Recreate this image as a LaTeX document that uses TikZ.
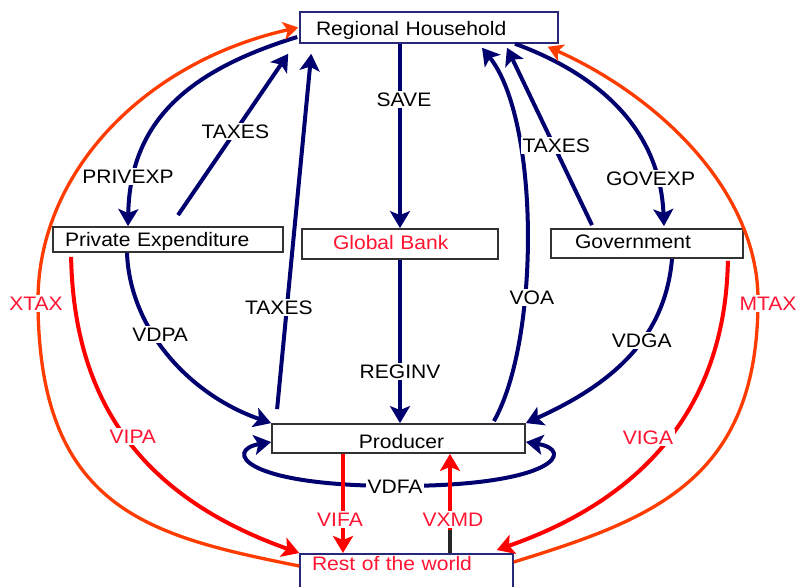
\documentclass[tikz,border=0pt]{standalone}
\usepackage{fontspec}
\setmainfont{Liberation Sans}[FakeStretch=1.08]
\usetikzlibrary{arrows.meta,calc}
\definecolor{navy}{RGB}{0,0,110}
\definecolor{boxnavy}{RGB}{40,40,120}
\definecolor{boxgray}{RGB}{50,50,50}
\definecolor{redline}{RGB}{255,0,0}
\definecolor{orangeline}{RGB}{255,60,0}
\definecolor{labelred}{RGB}{255,20,50}
\tikzset{
  box/.style={draw=boxgray, line width=1.8pt, fill=white, inner ysep=0pt, text height=14pt, text depth=0pt, align=left},
  hbox/.style={box, draw=boxnavy, line width=1.5pt},
  lbl/.style={fill=white, inner sep=1.5pt, text=black, text height=14pt, text depth=0pt},
  rlbl/.style={lbl, text=labelred},
  tip/.style={-{Stealth[length=17pt,width=20pt,inset=4pt]}},
  nav/.style={draw=navy, line width=4pt, tip},
  rline/.style={draw=redline, line width=4pt, tip},
  oline/.style={draw=orangeline, line width=3.3pt, -{Stealth[length=15pt,width=18pt,inset=4pt]}},
}
\begin{document}
\begin{tikzpicture}[x=1pt,y=-1pt,font=\fontsize{19.5}{23}\selectfont]
\path[use as bounding box, clip] (0,0) rectangle (799,586);
\fill[white] (0,0) rectangle (799,586);

% boxes
\node[hbox, minimum width=258pt, minimum height=31pt, inner xsep=16pt, text width=226pt, text height=17pt] (rh) at (429,27.5) {Regional Household};
\node[box, minimum width=230pt, minimum height=25pt, inner xsep=12pt, text width=206pt, text height=13pt] (pe) at (168,239.5) {Private Expenditure};
\node[box, minimum width=196pt, minimum height=30pt, inner xsep=31pt, text width=134pt, text height=11pt, text=labelred] (gb) at (400,244) {Global Bank};
\node[box, minimum width=192pt, minimum height=29pt, inner xsep=24pt, text width=144pt, text height=10pt] (gov) at (647,243.5) {Government};
\node[box, minimum width=253pt, minimum height=29pt, inner xsep=10pt, text width=233pt, text height=19.6pt, align=center] (prod) at (398.5,438.5) {\hspace*{6pt}Producer};
\node[hbox, anchor=north, minimum width=213pt, inner xsep=12pt, inner ysep=2pt, text width=189pt, text height=15pt, text depth=30pt, text=labelred] (row) at (406.5,553) {Rest of the world};

% PRIVEXP
\draw[nav] ([xshift=-2pt,yshift=-9.5pt]rh.west) .. controls (190,70) and (130,120) .. ([xshift=-40pt]pe.north) node[lbl,pos=.83,xshift=-6pt] (lprivexp) {PRIVEXP};
% TAXES upper left
\draw[nav] ([xshift=10pt,yshift=11pt]pe.north) -- ([xshift=-11pt,yshift=-10pt]rh.south west) node[lbl,pos=.52] (ltax1) {TAXES};
% TAXES lower left
\draw[nav] ([xshift=6pt,yshift=14pt]prod.north west) -- ([xshift=12pt,yshift=-10pt]rh.south west) node[lbl,pos=.286,xshift=-8pt] (ltax2) {TAXES};
% SAVE
\draw[nav] ([xshift=-29pt]rh.south) -- (gb.north) node[lbl,pos=.3,xshift=4pt] (lsave) {SAVE};
% REGINV
\draw[nav] (gb.south) -- (gb.south |- prod.north) node[lbl,pos=.685] (lreginv) {REGINV};
% VOA
\draw[nav] ([xshift=-32pt,yshift=2pt]prod.north east) .. controls (540,340) and (540,120) .. ([xshift=53pt,yshift=-4pt]rh.south) node[lbl,pos=.35,xshift=7pt] (lvoa) {VOA};
% TAXES right
\draw[nav] ([xshift=-55pt,yshift=3pt]gov.north) -- ([xshift=78pt,yshift=-4pt]rh.south) node[lbl,pos=.45,xshift=2.5pt] (ltax3) {TAXES};
% GOVEXP
\draw[nav] ([xshift=86pt]rh.south) .. controls (600,75) and (660,130) .. ([xshift=17pt,yshift=2pt]gov.north) node[lbl,pos=.82,xshift=-6pt] (lgovexp) {GOVEXP};
% VDPA
\draw[nav] ([xshift=-41pt]pe.south) .. controls (130,330) and (190,395) .. (prod.north west) node[lbl,pos=.38,xshift=7pt] (lvdpa) {VDPA};
% VDGA
\draw[nav] ([xshift=25pt]gov.south) .. controls (665,340) and (610,385) .. (prod.north east) node[lbl,pos=.4] (lvdga) {VDGA};
% VDFA
\coordinate (vdfa) at (398,486);
\draw[nav, {Stealth[length=17pt,width=20pt,inset=4pt]}-{Stealth[length=17pt,width=20pt,inset=4pt]}] ([yshift=-3.5pt]prod.west) .. controls (225,450) and (240,486) .. (vdfa) .. controls (556,486) and (575,450) .. ([yshift=-3.5pt]prod.east);
\node[lbl] (lvdfa) at ([xshift=-3pt]vdfa) {VDFA};

% VIFA
\draw[rline] ([xshift=-55.5pt]prod.south) -- ([xshift=-63.5pt]row.north) node[rlbl,pos=.66,xshift=-3pt] (lvifa) {VIFA};
% VXMD
\draw[rline] ([xshift=43.5pt]row.north) -- ([xshift=51.5pt]prod.south);
\draw[draw=black!85, line width=4pt] ([xshift=43.5pt]row.north) -- ([xshift=43.5pt,yshift=23pt]row.north);
\path ([xshift=43.5pt]row.north) -- ([xshift=51.5pt]prod.south) node[rlbl,pos=.34,xshift=3pt] (lvxmd) {VXMD};
% VIPA
\draw[rline] ([xshift=19pt,yshift=-4pt]pe.south west) .. controls (74,410) and (150,500) .. (row.north west) node[rlbl,pos=.48,xshift=7pt] (lvipa) {VIPA};
% VIGA
\draw[rline] ([xshift=-16pt,yshift=-2pt]gov.south east) .. controls (725,410) and (640,500) .. ([xshift=-17pt,yshift=3pt]row.north east) node[rlbl,pos=.5,xshift=-17pt,yshift=5pt] (lviga) {VIGA};

% XTAX
\coordinate (xt) at (38,300);
\draw[oline] ([yshift=-13pt]row.north west) .. controls (150,536) and (38,510) .. (xt) .. controls (38,173) and (144,62) .. ([xshift=-1pt]rh.west);
\node[rlbl] (lxtax) at ([xshift=-2pt,yshift=-3pt]xt) {XTAX};
% MTAX
\coordinate (mt) at (758,300);
\draw[oline] ([yshift=-9pt]row.north east) .. controls (653,519) and (758,480) .. (mt) .. controls (758,190) and (657,95.5) .. ([xshift=-11pt,yshift=-3pt]rh.south east);
\node[rlbl] (lmtax) at ([xshift=10pt,yshift=-3pt]mt) {MTAX};
\end{tikzpicture}
\end{document}
